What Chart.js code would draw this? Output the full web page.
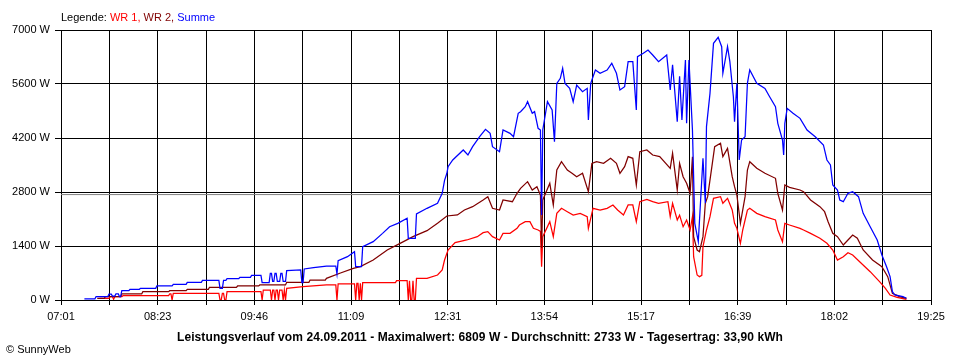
<!DOCTYPE html>
<html lang="de">
<head>
<meta charset="utf-8">
<title>Leistungsverlauf 24.09.2011</title>
<script src="https://cdn.jsdelivr.net/npm/chart.js@4/dist/chart.umd.min.js"></script>
<style>
  body { margin: 0; background: #fff; }
  #wrap { position: relative; width: 960px; height: 360px; font-family: "Liberation Sans", Arial, sans-serif; font-size: 11px; color: #000; }
  #chart { position: absolute; left: 0; top: 0; }
  #legende { position: absolute; left: 61px; top: 10px; line-height: 14px; white-space: nowrap; }
  #titel { position: absolute; left: 0; width: 960px; top: 330px; text-align: center; font-weight: bold; font-size: 12px; letter-spacing: 0.1px; line-height: 14px; white-space: nowrap; }
  #copy { position: absolute; left: 6px; top: 342px; line-height: 14px; }
</style>
</head>
<body>
<div id="wrap">
  <canvas id="chart" width="960" height="360"></canvas>
  <div id="legende">Legende: <span style="color:#ff0000">WR 1,</span> <span style="color:#800000">WR 2,</span> <span style="color:#0000ff">Summe</span></div>
  <div id="titel"></div>
  <div id="copy">&copy; SunnyWeb</div>
</div>
<script>
// Zeitachse in Minuten seit Mitternacht (07:01 .. 19:25)
const tStart = 421;
const tEnd = 1165;
const xLabels = ['07:01', '08:23', '09:46', '11:09', '12:31', '13:54', '15:17', '16:39', '18:02', '19:25'];
const yTickValues = [0, 1400, 2800, 4200, 5600, 7000];

// Kennzahlen
const datum = '24.09.2011';
const maxWert = 6809;
const durchschnitt = 2733;
const ertrag = '33,90';

// Summe (blau)
const summeT = [441, 450, 451, 461, 462, 464, 465, 467, 468, 470, 471, 472, 473, 479, 480, 488, 489, 502, 503, 516,
    517, 528, 529, 541, 542, 556, 557, 559, 560, 562, 563, 573, 574, 583, 584, 592, 593, 599, 600, 601,
    602, 603, 604, 605, 606, 608, 609, 610, 611, 613, 614, 626, 627, 628, 629, 637, 648, 656, 657, 658,
    666, 672, 673, 678, 679, 688, 696, 702, 709, 717, 718, 724, 725, 734, 743, 747, 749, 751, 752, 756,
    765, 769, 773, 779, 784, 788, 790, 796, 799, 805, 808, 812, 814, 818, 820, 824, 826, 829, 831, 832,
    833, 837, 841, 843, 845, 848, 850, 852, 856, 859, 862, 867, 871, 872, 874, 878, 882, 888, 892, 896,
    899, 903, 906, 910, 913, 914, 919, 923, 927, 932, 939, 942, 944, 948, 950, 952, 955, 956, 958, 961,
    963, 966, 970, 972, 973, 976, 979, 983, 986, 987, 991, 993, 996, 997, 999, 1001, 1003, 1006, 1008, 1010,
    1016, 1023, 1027, 1032, 1034, 1038, 1039, 1040, 1042, 1047, 1053, 1059, 1066, 1073, 1076, 1079, 1081, 1085, 1087, 1090,
    1094, 1098, 1103, 1107, 1113, 1119, 1123, 1127, 1130, 1132, 1134, 1141, 1144];
const summe = [30, 30, 86, 86, 150, 150, 100, 100, 160, 160, 90, 90, 240, 240, 277, 277, 303, 303, 363, 363,
    406, 406, 458, 458, 510, 510, 303, 303, 510, 510, 553, 553, 588, 588, 640, 640, 450, 450, 690, 690,
    480, 480, 690, 690, 480, 480, 690, 690, 480, 480, 760, 780, 450, 450, 804, 838, 881, 881, 674, 1019,
    1123, 1252, 864, 864, 1382, 1512, 1728, 1901, 1988, 2118, 1600, 1600, 2230, 2377, 2507, 2766, 3100, 3285, 3457, 3630,
    3889, 3759, 3975, 4234, 4425, 4321, 3975, 3845, 4407, 4321, 4234, 4840, 4883, 5012, 5142, 4840, 4883, 4451, 4407, 2204,
    4407, 5142, 4926, 4105, 5617, 5747, 6006, 5617, 5487, 5142, 5574, 5401, 5487, 4667, 5617, 5963, 5877, 5963, 6136, 5877,
    5444, 5531, 6179, 6179, 4926, 6309, 6395, 6481, 6352, 6179, 6352, 5444, 6100, 4624, 5800, 4667, 6222, 4580, 6222, 4407,
    1988, 1512, 3673, 2507, 4494, 5358, 6654, 6809, 6568, 5877, 6568, 6179, 5271, 4624, 5617, 3630, 4148, 4234, 5617, 5963,
    5617, 5487, 5271, 5012, 4580, 4148, 3759, 4580, 4969, 4840, 4710, 4407, 4234, 4019, 3630, 3500, 2981, 2852, 2593, 2549,
    2766, 2809, 2679, 2247, 1901, 1556, 1167, 864, 605, 216, 130, 86, 44];

// WR 2 (dunkelrot)
const wr2T = [452, 458, 459, 472, 473, 490, 491, 513, 514, 528, 529, 547, 548, 571, 572, 590, 591, 613, 614, 633,
    634, 647, 648, 660, 671, 677, 688, 700, 711, 722, 734, 743, 751, 760, 766, 773, 782, 786, 790, 796,
    799, 807, 811, 814, 820, 824, 828, 831, 832, 833, 839, 842, 845, 849, 854, 858, 862, 867, 872, 875,
    879, 885, 891, 896, 899, 903, 906, 910, 913, 916, 922, 927, 933, 942, 944, 948, 950, 953, 956, 959,
    961, 962, 965, 967, 970, 972, 974, 978, 980, 985, 987, 991, 995, 997, 999, 1002, 1006, 1008, 1010, 1016,
    1023, 1032, 1034, 1038, 1040, 1044, 1053, 1056, 1062, 1070, 1074, 1077, 1081, 1085, 1090, 1094, 1098, 1102, 1107, 1115,
    1123, 1128, 1132, 1138, 1144];
const wr2 = [44, 44, 86, 86, 156, 156, 216, 216, 242, 242, 277, 277, 329, 329, 363, 363, 389, 389, 458, 458,
    518, 518, 562, 700, 821, 864, 1037, 1296, 1469, 1642, 1798, 1988, 2178, 2204, 2333, 2420, 2593, 2679, 2377, 2333,
    2593, 2549, 2766, 2896, 3068, 2852, 2938, 2722, 1340, 2593, 3025, 2463, 3370, 3586, 3370, 3285, 3197, 3285, 2809, 3543,
    3586, 3543, 3673, 3543, 3285, 3457, 3716, 3673, 2981, 3845, 3889, 3759, 3716, 3414, 3803, 2852, 3543, 3197, 3025, 2766,
    3716, 1642, 1296, 1252, 1642, 2507, 2679, 3543, 3975, 4062, 3716, 3932, 3197, 2938, 2722, 1988, 2679, 3370, 3586, 3414,
    3285, 3155, 2766, 2333, 2981, 2921, 2852, 2809, 2593, 2420, 2290, 2031, 1728, 1642, 1426, 1556, 1685, 1600, 1296, 1037,
    864, 605, 173, 86, 44];

// WR 1 (rot)
const wr1T = [454, 462, 463, 465, 466, 467, 473, 474, 513, 514, 515, 516, 517, 556, 557, 558, 559, 560, 561, 562,
    563, 592, 593, 594, 600, 601, 602, 603, 604, 605, 606, 607, 608, 610, 611, 612, 613, 614, 628, 648,
    656, 657, 658, 672, 673, 674, 675, 676, 677, 678, 679, 707, 708, 717, 718, 719, 720, 721, 722, 723,
    724, 725, 734, 743, 747, 749, 752, 758, 768, 777, 782, 786, 790, 796, 799, 805, 811, 813, 818, 822,
    825, 829, 831, 832, 833, 839, 842, 845, 849, 854, 859, 865, 871, 872, 876, 882, 888, 893, 897, 902,
    906, 910, 913, 916, 922, 927, 932, 940, 942, 944, 948, 950, 953, 956, 959, 961, 962, 965, 967, 969,
    970, 973, 976, 979, 985, 987, 991, 995, 997, 999, 1002, 1004, 1008, 1010, 1016, 1023, 1032, 1034, 1038, 1040,
    1044, 1053, 1056, 1062, 1070, 1076, 1081, 1085, 1090, 1094, 1098, 1104, 1113, 1121, 1126, 1130, 1136, 1144];
const wr1 = [44, 44, 86, 86, 20, 86, 86, 112, 112, 156, 156, 0, 173, 173, 0, 0, 173, 173, 0, 0,
    216, 216, 0, 259, 259, 0, 259, 259, 0, 259, 259, 0, 259, 259, 0, 259, 0, 303, 346, 389,
    389, 0, 415, 415, 0, 430, 430, 0, 430, 0, 449, 449, 501, 501, 0, 501, 0, 0, 501, 0,
    0, 562, 562, 648, 778, 1037, 1296, 1486, 1556, 1642, 1745, 1771, 1642, 1556, 1728, 1728, 1858, 1944, 2031, 2031,
    1858, 1815, 1780, 864, 1642, 2031, 1642, 2247, 2377, 2290, 2204, 2247, 2160, 1858, 2377, 2333, 2377, 2463, 2333, 2204,
    2463, 2463, 2031, 2549, 2610, 2549, 2507, 2549, 2160, 2507, 2074, 2200, 1901, 2074, 1815, 2160, 1123, 648, 605, 640,
    1382, 1815, 2160, 2636, 2679, 2507, 2636, 2333, 1988, 1858, 1469, 1815, 2333, 2377, 2247, 2160, 2074, 1815, 1512, 1988,
    1944, 1858, 1815, 1728, 1600, 1469, 1296, 1037, 1123, 1227, 1167, 993, 734, 475, 303, 130, 70, 18];

function toPoints(times, values) {
    return times.map((t, i) => ({ x: t, y: values[i] }));
}

function lineSet(label, times, values, color) {
    return {
        label: label,
        data: toPoints(times, values),
        borderColor: color,
        borderWidth: 1.25,
        pointRadius: 0,
        tension: 0,
        fill: false
    };
}

document.getElementById('titel').textContent =
    'Leistungsverlauf vom ' + datum + ' - Maximalwert: ' + maxWert + ' W - Durchschnitt: ' +
    durchschnitt + ' W - Tagesertrag: ' + ertrag + ' kWh';

Chart.defaults.font.family = '"Liberation Sans", Arial, sans-serif';
Chart.defaults.font.size = 11;
Chart.defaults.color = '#000';

// Durchschnittslinie (grau)
const avgSet = {
    label: 'Durchschnitt',
    data: [{ x: tStart, y: durchschnitt }, { x: tEnd, y: durchschnitt }],
    borderColor: '#808080',
    borderWidth: 1,
    pointRadius: 0,
    order: 10
};

new Chart(document.getElementById('chart'), {
    type: 'line',
    data: {
        datasets: [
            avgSet,
            lineSet('Summe', summeT, summe, '#0000ff'),
            lineSet('WR 2', wr2T, wr2, '#800000'),
            lineSet('WR 1', wr1T, wr1, '#ff0000')
        ]
    },
    options: {
        responsive: false,
        animation: false,
        devicePixelRatio: 1,
        layout: { padding: { top: 30, right: 29, left: 0, bottom: 0 } },
        plugins: { legend: { display: false }, tooltip: { enabled: false } },
        scales: {
            x: {
                type: 'linear',
                min: tStart,
                max: tEnd,
                afterBuildTicks: function (scale) {
                    const n = (xLabels.length - 1) * 2;
                    const ticks = [];
                    for (let i = 0; i <= n; i++) ticks.push({ value: tStart + i * (tEnd - tStart) / n });
                    scale.ticks = ticks;
                },
                afterFit: function (scale) { scale.height = 60; },
                grid: { color: '#000', lineWidth: 1, tickLength: 5 },
                border: { color: '#000' },
                ticks: {
                    autoSkip: false,
                    maxRotation: 0,
                    padding: 5,
                    callback: (v, i) => (i % 2 === 0 ? xLabels[i / 2] : '')
                }
            },
            y: {
                min: 0,
                max: 7000,
                afterBuildTicks: function (scale) {
                    scale.ticks = yTickValues.map(v => ({ value: v }));
                },
                afterFit: function (scale) { scale.width = 61; },
                grid: { color: '#000', lineWidth: 1, tickLength: 6 },
                border: { color: '#000' },
                ticks: { padding: 5, callback: v => v + ' W' }
            }
        }
    }
});
</script>
</body>
</html>
